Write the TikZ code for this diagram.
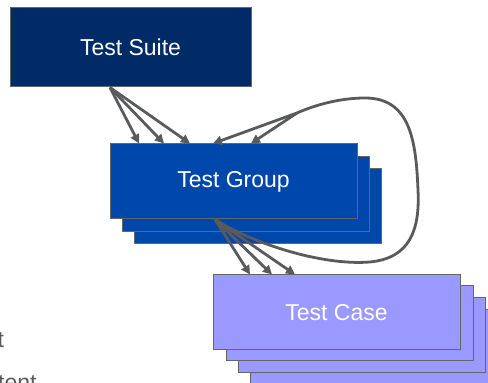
\documentclass[tikz,border=0pt]{standalone}
\usepackage{fontspec}
\setmainfont{Liberation Sans}
\usetikzlibrary{arrows.meta, calc}

\definecolor{suiteblue}{RGB}{1,43,102}
\definecolor{groupblue}{RGB}{0,71,171}
\definecolor{caseblue}{RGB}{153,153,255}
\definecolor{edgegray}{RGB}{102,102,102}
\definecolor{arrowgray}{RGB}{89,90,92}

\begin{document}
\begin{tikzpicture}[
  x=0.5pt, y=-0.5pt,
  box/.style={draw=edgegray, line width=0.5pt, rectangle, inner sep=0pt, text=white, font=\fontsize{11.5}{14}\selectfont},
  suitebox/.style={box, fill=suiteblue, minimum width=120.5pt, minimum height=39.5pt},
  groupbox/.style={box, fill=groupblue, minimum width=123.5pt, minimum height=37.5pt},
  casebox/.style={box, fill=caseblue, minimum width=123.5pt, minimum height=37.5pt},
  arrow/.style={-{Triangle[length=4.5pt, width=4.5pt]}, line width=1.4pt, draw=arrowgray},
  looppath/.style={line width=1.4pt, draw=arrowgray},
  side/.style={text=arrowgray, font=\fontsize{11.5}{14}\selectfont, inner sep=0pt, anchor=base east}
]
\useasboundingbox (0,0) rectangle (488,383);

% Stacked copies
\node[groupbox] (group3) at (257.5,206.5) {};
\node[groupbox] (group2) at (246,194) {};
\node[casebox] (case4) at (373.5,347.5) {};
\node[casebox] (case3) at (361.5,335.5) {};
\node[casebox] (case2) at (349.5,323.5) {};

% Boxes
\node[suitebox] (suite) at (130.5,47.5) {Test Suite};
\node[groupbox] (group) at (233.5,181.5) {Test Group};
\node[casebox] (case) at (336.5,312.5) {Test Case};

% Side text
\node[side] (sidea) at (4.5,348) {t};
\node[side] (sideb) at (37,391) {tent};

% Arrows
\coordinate (split) at (297,113);
\coordinate (gout) at ($(group.south)+(-18.5,0)$);
\foreach \dx in {-94.5,-69.5,-43.5}
  \draw[arrow] ($(suite.south)+(-20.5,0)$) -- ($(group.north)+(\dx,0)$);
\foreach \dx in {-86.5,-64.5,-41.5}
  \draw[arrow] (gout) -- ($(case.north)+(\dx,0)$);
\draw[looppath] (gout) .. controls (250,242) and (320,266) .. (370,262)
  .. controls (410,258) and (420,230) .. (418,190)
  .. controls (416,140) and (410,98) .. (365,98)
  .. controls (340,98) and (315,105) .. (split);
\foreach \dx in {-20.5,17.5}
  \draw[arrow] (split) -- ($(group.north)+(\dx,0)$);

\end{tikzpicture}
\end{document}
